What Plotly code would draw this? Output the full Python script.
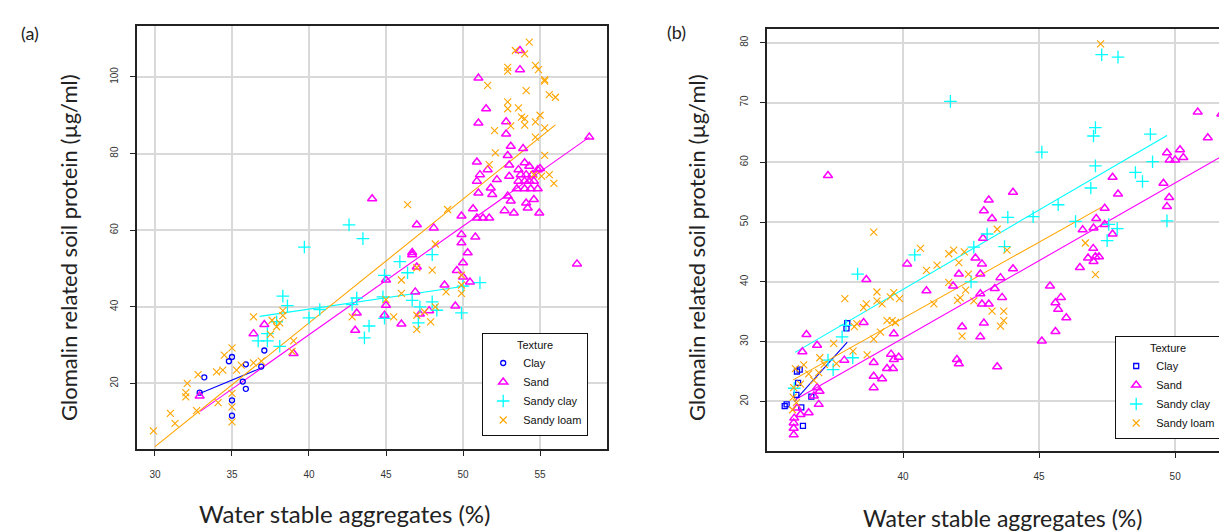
import plotly.graph_objs as go

# Colours per texture (R default palette look)
colors = {
    "Clay": "#0000FF",
    "Sand": "#FF00FF",
    "Sandy clay": "#00FFFF",
    "Sandy loam": "#FFA500",
}

# ---------------- panel (a) data ----------------
a_clay_x = [32.9, 33.2, 34.8, 35.0, 35.9, 35.7, 35.9, 35.0, 35.0, 37.1, 36.9]
a_clay_y = [17.6, 21.6, 25.8, 26.9, 25.0, 20.5, 18.6, 15.6, 11.6, 28.6, 24.4]

a_sand_x = [32.9, 36.4, 37.1, 39.0, 43.1, 43.0, 45.0, 45.0, 44.9, 46.0, 46.7, 47.0,
            46.9, 47.2, 47.8, 48.8, 49.5, 49.6, 49.9, 49.9, 49.9, 50.3, 50.0, 50.0,
            50.45, 50.8, 44.1, 47.0, 48.1, 46.7, 57.4,
            53.7, 53.7, 51.0, 51.5, 51.0, 52.8, 52.8, 53.1, 53.9, 52.9, 50.9, 58.2,
            53.0, 51.6, 51.1, 50.9, 52.2, 51.8, 51.0, 53.0, 53.6, 54.0, 54.3, 54.85,
            53.75, 54.1, 54.5, 53.6, 54.0, 54.3, 54.6, 53.5, 54.0, 54.4, 54.85, 55.0,
            51.9, 52.9, 53.1, 52.7, 53.3, 54.2, 54.6, 54.1, 54.95, 50.65, 50.9, 51.3, 51.7]
a_sand_y = [16.7, 33.0, 35.4, 27.8, 38.4, 33.9, 47.0, 40.4, 37.8, 35.5, 54.2, 50.4,
            43.9, 38.1, 39.0, 45.7, 40.2, 49.5, 63.7, 58.9, 56.7, 54.1, 51.5, 47.8,
            46.5, 58.2, 68.2, 61.4, 60.6, 53.6, 51.2,
            106.9, 101.9, 99.7, 91.7, 88.0, 88.3, 85.1, 81.9, 81.3, 79.5, 77.8, 84.3,
            77.0, 75.8, 74.5, 72.8, 73.2, 71.0, 69.7, 74.1, 75.8, 77.6, 76.7, 75.8,
            74.5, 74.5, 74.5, 72.8, 72.8, 72.8, 72.8, 70.8, 70.8, 70.8, 70.8, 76.1,
            69.3, 68.9, 67.6, 65.1, 64.5, 65.8, 68.0, 67.1, 64.5, 65.6, 63.2, 63.2, 63.2]

a_sclay_x = [39.7, 42.6, 43.5, 45.9, 46.4, 44.9, 48.0, 38.3, 38.6, 36.7, 37.3, 37.3,
             37.9, 38.1, 40.0, 40.7, 43.1, 42.8, 43.9, 43.6, 44.9, 44.8, 46.7, 47.2,
             47.1, 48.0, 48.3, 50.0, 49.9, 51.1]
a_sclay_y = [55.6, 61.4, 57.8, 51.8, 48.9, 48.2, 53.6, 42.8, 40.3, 31.1, 31.1, 33.0,
             36.1, 29.7, 37.1, 39.3, 42.3, 40.6, 35.0, 31.9, 37.0, 42.6, 41.7, 40.0,
             35.8, 41.3, 39.1, 45.4, 38.4, 46.3]

a_sloam_x = [54.3, 53.4, 54.0, 52.9, 52.9, 54.7, 54.9, 55.3, 55.3, 51.6, 54.1, 55.6,
             56.0, 52.9, 52.9, 53.6, 53.8, 54.0, 54.0, 54.7, 55.0, 53.1, 52.05, 55.3,
             54.7, 52.1, 55.3, 51.7, 54.6, 55.1, 55.6, 55.9, 49.0, 46.4, 48.2,
             29.9, 31.0, 31.3, 32.1, 32.0, 32.0, 32.8, 32.7, 34.0, 34.1, 34.4, 34.5,
             35.0, 35.0, 35.0, 35.0, 35.3, 35.6, 36.4, 36.9, 36.4, 37.6, 37.9, 38.1,
             37.5, 38.3, 38.3, 38.9, 39.0, 42.8, 45.0, 45.5, 46.0, 46.0, 47.0, 48.0,
             47.0, 47.0, 47.5, 47.9, 48.2, 48.9, 49.9, 49.9, 49.9]
a_sloam_y = [109.1, 106.9, 106.0, 102.5, 101.5, 103.0, 101.9, 99.3, 98.9, 97.8, 96.4, 95.4,
             94.7, 93.5, 91.7, 91.9, 89.5, 89.1, 87.4, 88.3, 90.0, 87.2, 86.0, 86.7,
             84.3, 80.2, 79.5, 77.1, 74.5, 74.1, 74.5, 72.2, 65.4, 66.7, 56.4,
             7.6, 12.2, 9.6, 20.0, 17.6, 16.5, 22.3, 12.9, 23.0, 15.0, 23.5, 27.4,
             29.3, 17.4, 13.9, 10.0, 23.5, 24.8, 25.4, 25.8, 37.4, 36.5, 34.8, 35.8,
             32.8, 37.7, 39.0, 28.4, 31.1, 37.4, 41.9, 37.4, 47.0, 43.5, 50.2, 49.6,
             37.8, 34.1, 38.7, 36.1, 40.0, 43.9, 45.7, 43.5, 48.3]

# fitted lines, panel (a): end points
a_fit_x = {"Clay": [32.9, 37.0], "Sand": [32.94, 58.2],
           "Sandy clay": [36.8, 50.3], "Sandy loam": [30.0, 56.0]}
a_fit_y = {"Clay": [17.4, 24.2], "Sand": [12.7, 84.3],
           "Sandy clay": [37.5, 45.5], "Sandy loam": [3.5, 87.5]}

# ---------------- panel (b) data ----------------
b_clay_x = [35.65, 36.2, 36.1, 36.08, 36.26, 36.32, 36.63, 37.92, 37.95, 36.14, 35.72]
b_clay_y = [19.2, 25.3, 25.0, 21.1, 19.0, 15.9, 20.8, 32.2, 33.1, 23.1, 19.5]

b_sand_x = [37.24, 44.04, 43.15, 42.97, 43.27, 40.15, 40.86, 38.65, 38.55, 42.66, 42.05,
            41.84, 42.84, 42.9, 44.04, 43.58, 43.37, 43.64, 42.84, 43.15, 42.9, 42.97,
            42.17, 42.84, 41.98, 42.05, 43.46, 36.45, 36.84, 36.3, 39.66, 37.84, 38.92,
            39.56, 39.84, 39.66, 39.41, 39.63, 39.23, 38.92, 38.92, 36.84, 36.93, 36.72,
            36.9, 36.53, 36.23, 36.1, 35.98, 35.98, 35.98, 36.0, 42.94,
            50.83, 51.7, 51.2, 50.18, 49.7, 49.8, 50.0, 50.3, 49.57, 49.78, 49.7, 47.7,
            47.9, 47.41, 47.1, 47.0, 46.6, 47.41, 47.7, 46.99, 46.8, 47.07, 47.2, 47.0,
            46.5, 45.4, 45.8, 45.6, 45.7, 46.0, 45.6, 45.1]
b_sand_y = [57.8, 55.0, 53.7, 51.9, 50.6, 43.0, 38.5, 40.4, 33.2, 44.0, 41.3,
            39.3, 41.3, 43.0, 42.2, 40.7, 38.9, 37.4, 38.0, 36.3, 36.3, 33.1,
            32.5, 30.8, 27.0, 26.3, 25.8, 31.2, 29.4, 28.3, 31.3, 26.9, 26.5,
            27.9, 27.4, 27.0, 25.5, 25.5, 23.8, 24.2, 22.3, 22.3, 21.7, 20.9,
            19.5, 18.1, 17.8, 18.9, 16.4, 15.5, 14.4, 17.2, 47.3,
            68.4, 68.1, 64.1, 62.1, 61.6, 60.4, 60.4, 60.8, 56.5, 54.1, 52.6, 57.5,
            54.7, 52.3, 50.6, 49.0, 48.7, 49.6, 48.0, 45.6, 44.0, 44.2, 44.2, 43.4,
            42.4, 39.3, 37.4, 36.5, 35.4, 34.0, 31.7, 30.1]

b_sclay_x = [47.3, 47.9, 45.1, 47.07, 47.0, 49.09, 47.07, 49.17, 46.9, 48.54, 48.8, 45.7,
             44.78, 46.34, 49.7, 47.56, 47.87, 47.5, 41.74, 40.43, 38.33, 37.9, 37.76,
             37.24, 37.43, 38.15, 42.6, 43.09, 43.73, 43.85, 42.5, 36.0]
b_sclay_y = [78.0, 77.6, 61.7, 65.8, 64.4, 64.7, 59.4, 60.1, 55.7, 58.3, 56.8, 52.9,
             50.9, 50.1, 50.2, 49.6, 48.9, 46.9, 70.2, 44.5, 41.3, 32.7, 30.8,
             26.9, 25.3, 27.3, 45.8, 48.0, 45.9, 50.8, 40.0, 22.2]

b_sloam_x = [38.92, 40.64, 41.68, 41.86, 41.25, 40.86, 42.05, 42.4, 43.46, 43.82, 42.25,
             41.68, 42.3, 42.0, 42.1, 42.6, 41.13, 43.27, 43.7, 43.7, 43.58, 42.17,
             39.87, 39.66, 39.53, 39.04, 39.04, 39.23, 38.65, 38.55, 37.86, 39.41, 39.6,
             39.72, 39.17, 38.92, 38.21, 38.3, 37.45, 38.16, 38.68, 37.55, 36.94, 36.04,
             36.35, 35.98, 36.53, 36.72, 36.23, 35.96, 36.08, 35.94, 36.9, 37.1,
             47.26, 46.7, 47.07]
b_sloam_y = [48.3, 45.6, 44.7, 45.3, 42.8, 41.9, 43.2, 41.3, 48.8, 45.3, 45.0,
             39.9, 38.6, 36.9, 37.3, 36.8, 36.3, 35.1, 35.1, 33.5, 32.6, 30.9,
             37.2, 38.2, 37.5, 38.3, 36.8, 36.3, 36.3, 35.7, 37.2, 33.5, 33.5,
             33.2, 31.6, 30.4, 32.5, 33.0, 29.7, 28.4, 27.8, 26.3, 27.3, 25.5,
             26.1, 22.3, 24.6, 23.5, 22.9, 20.7, 19.8, 18.6, 24.8, 26.2,
             79.8, 46.5, 41.2]

b_fit_x = {"Clay": [36.0, 37.95], "Sand": [36.05, 51.68],
           "Sandy clay": [36.03, 49.7], "Sandy loam": [35.96, 47.3]}
b_fit_y = {"Clay": [20.0, 29.9], "Sand": [20.3, 60.9],
           "Sandy clay": [28.2, 64.5], "Sandy loam": [23.6, 52.5]}

TEXTURES = ["Clay", "Sand", "Sandy clay", "Sandy loam"]
TITLE_FONT = "Lato"
TICK_FONT = "Liberation Sans"


def marker_style(texture, panel):
    c = colors[texture]
    if texture == "Clay":
        sym = "circle-open" if panel == "a" else "square-open"
        return dict(symbol=sym, size=5, color=c, line=dict(width=1.3, color=c))
    if texture == "Sand":
        return dict(symbol="triangle-up-open", size=8, color=c, line=dict(width=1.5, color=c))
    if texture == "Sandy clay":
        return dict(symbol="cross-thin-open", size=9, color=c, line=dict(width=1.3, color=c))
    return dict(symbol="x-thin-open", size=7, color=c, line=dict(width=1.1, color=c))


def main():
    pts = {
        "a": {
            "Clay": (a_clay_x, a_clay_y),
            "Sand": (a_sand_x, a_sand_y),
            "Sandy clay": (a_sclay_x, a_sclay_y),
            "Sandy loam": (a_sloam_x, a_sloam_y),
        },
        "b": {
            "Clay": (b_clay_x, b_clay_y),
            "Sand": (b_sand_x, b_sand_y),
            "Sandy clay": (b_sclay_x, b_sclay_y),
            "Sandy loam": (b_sloam_x, b_sloam_y),
        },
    }
    fits = {"a": (a_fit_x, a_fit_y), "b": (b_fit_x, b_fit_y)}
    axes = {"a": ("x", "y", "legend"), "b": ("x2", "y2", "legend2")}

    fig = go.Figure()
    for panel in ["a", "b"]:
        xa, ya, leg = axes[panel]
        fx, fy = fits[panel]
        for tex in TEXTURES:
            fig.add_trace(
                go.Scatter(
                    x=fx[tex], y=fy[tex], mode="lines",
                    line=dict(color=colors[tex], width=1.1),
                    xaxis=xa, yaxis=ya, showlegend=False, hoverinfo="skip",
                )
            )
        for tex in TEXTURES:
            x, y = pts[panel][tex]
            fig.add_trace(
                go.Scatter(
                    name=tex, x=x, y=y, mode="markers",
                    marker=marker_style(tex, panel),
                    xaxis=xa, yaxis=ya, legend=leg,
                )
            )

    axis_common = dict(
        showgrid=True, gridcolor="#D9D9D9", gridwidth=1.5,
        zeroline=False, showline=True, linecolor="#222", linewidth=1.5,
        ticks="outside", ticklen=5, tickcolor="#222",
        tickfont=dict(family=TICK_FONT, size=10, color="#333"),
    )
    legend_common = dict(
        title=dict(text="Texture", side="top center",
                   font=dict(family=TICK_FONT, size=11, color="#111")),
        bordercolor="#111", borderwidth=1.2, bgcolor="white",
        font=dict(family=TICK_FONT, size=11, color="#111"),
        yanchor="top", tracegroupgap=0, itemwidth=30,
    )

    fig.update_layout(
        width=1227, height=532,
        margin=dict(l=0, r=0, t=0, b=0),
        paper_bgcolor="white", plot_bgcolor="white",
        xaxis=dict(domain=[0.1051, 0.4882], range=[28.83, 59.35],
                   tickvals=[30, 35, 40, 45, 50, 55], mirror=True,
                   ticklabelstandoff=10, anchor="y", **axis_common),
        yaxis=dict(domain=[0.1711, 0.9662], range=[2.9, 113.3],
                   tickvals=[20, 40, 60, 80, 100], tickangle=-90, mirror=True,
                   ticklabelstandoff=8, anchor="x", **axis_common),
        xaxis2=dict(domain=[0.6186, 1.0], range=[35.0, 52.2],
                    tickvals=[40, 45, 50], mirror=True,
                    ticklabelstandoff=10, anchor="y2", **axis_common),
        yaxis2=dict(domain=[0.1673, 0.9605], range=[11.7, 82.3],
                    tickvals=[20, 30, 40, 50, 60, 70, 80], tickangle=-90,
                    ticklabelstandoff=8, anchor="x2", **axis_common),
        legend=dict(x=580 / 1227, xanchor="right", y=1 - 325 / 532, **legend_common),
        legend2=dict(x=1213 / 1227, xanchor="right", y=1 - 328 / 532, **legend_common),
    )

    ytitle_font = dict(family=TITLE_FONT, size=22, color="#222")
    xtitle_font = dict(family=TITLE_FONT, size=24, color="#222")
    ann = [
        dict(text="(a)", x=22 / 1227, y=1 - 25 / 532),
        dict(text="(b)", x=668 / 1227, y=1 - 24 / 532),
        dict(text="Glomalin related soil protein (\u00b5g/ml)", x=60 / 1227,
             y=1 - 240 / 532, textangle=-90, font=ytitle_font),
        dict(text="Glomalin related soil protein (\u00b5g/ml)", x=688 / 1227,
             y=1 - 240 / 532, textangle=-90, font=ytitle_font),
        dict(text="Water stable aggregates (%)", x=337 / 1227, y=1 - 505 / 532,
             font=xtitle_font),
        dict(text="Water stable aggregates (%)", x=994 / 1227, y=1 - 510 / 532,
             font=dict(family=TITLE_FONT, size=23, color="#222")),
    ]
    for a in ann:
        a.setdefault("font", dict(family=TITLE_FONT, size=18, color="#222"))
        fig.add_annotation(xref="paper", yref="paper", showarrow=False,
                           xanchor="center", yanchor="middle", **a)

    fig.write_html("out.html")


if __name__ == "__main__":
    main()
